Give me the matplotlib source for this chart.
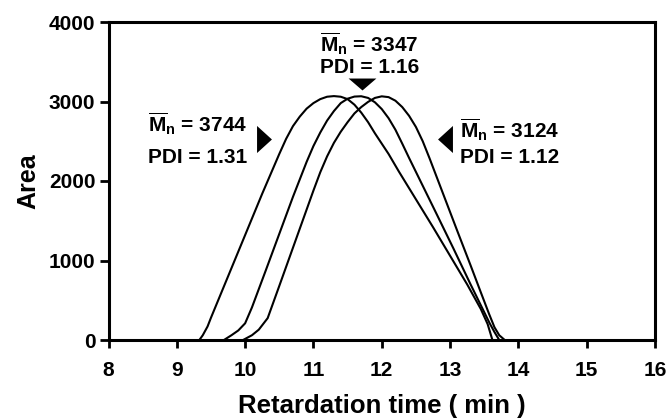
import matplotlib
matplotlib.use("Agg")
import matplotlib.pyplot as plt
from matplotlib.path import Path

plt.rcParams['font.family'] = ['Liberation Sans', 'DejaVu Sans']
plt.rcParams['font.weight'] = 'bold'
plt.rcParams['mathtext.fontset'] = 'custom'
plt.rcParams['mathtext.rm'] = 'Liberation Sans:bold'
plt.rcParams['mathtext.bf'] = 'Liberation Sans:bold'

# GPC traces, retardation time (min) vs area
t_a = [9.33, 9.38, 9.45, 9.50, 9.75, 10.0, 10.25, 10.5, 10.6, 10.7, 10.8, 10.9,
       11.0, 11.1, 11.2, 11.3, 11.4, 11.5, 11.6, 11.7, 11.8, 11.9, 12.0, 12.1,
       12.25, 12.5, 12.75, 13.0, 13.25, 13.45, 13.55, 13.62]
area_a = [0, 60, 170, 280, 800, 1320, 1840, 2340, 2530, 2690, 2810, 2910,
          2980, 3030, 3060, 3068, 3060, 3030, 2960, 2860, 2740, 2600, 2470, 2340,
          2120, 1770, 1420, 1060, 700, 390, 200, 0]

t_b = [9.69, 9.8, 9.9, 10.0, 10.1, 10.3, 10.5, 10.7, 10.9, 11.0, 11.1, 11.2,
       11.3, 11.4, 11.5, 11.6, 11.7, 11.8, 11.9, 12.0, 12.1, 12.2, 12.3, 12.4,
       12.56, 12.8, 13.05, 13.3, 13.5, 13.58, 13.65, 13.72]
area_b = [0, 60, 120, 210, 410, 870, 1335, 1800, 2240, 2440, 2610, 2760,
          2880, 2980, 3035, 3062, 3066, 3045, 2990, 2905, 2790, 2645, 2470, 2290,
          2010, 1590, 1150, 700, 350, 210, 100, 0]

t_c = [9.97, 10.1, 10.2, 10.33, 10.5, 10.75, 11.0, 11.1, 11.2, 11.3, 11.4, 11.5,
       11.6, 11.7, 11.8, 11.9, 12.0, 12.1, 12.2, 12.3, 12.4, 12.5, 12.6, 12.7,
       12.88, 13.1, 13.3, 13.45, 13.57, 13.65, 13.72, 13.8]
area_c = [0, 60, 130, 275, 680, 1280, 1880, 2110, 2310, 2480, 2620, 2740,
          2850, 2930, 2995, 3045, 3065, 3055, 3010, 2930, 2820, 2680, 2500, 2285,
          1880, 1385, 940, 600, 330, 160, 60, 0]

labels = [(r'$\overline{\mathrm{M}}_\mathrm{n}$ = 3744', 'PDI = 1.31'),
          (r'$\overline{\mathrm{M}}_\mathrm{n}$ = 3347', 'PDI = 1.16'),
          (r'$\overline{\mathrm{M}}_\mathrm{n}$ = 3124', 'PDI = 1.12')]

# narrow pointer triangles
tri_right = Path([(-0.55, -1), (0.55, 0), (-0.55, 1), (-0.55, -1)], closed=True)
tri_left = Path([(0.55, -1), (-0.55, 0), (0.55, 1), (0.55, -1)], closed=True)
tri_down = Path([(-1, 0.43), (1, 0.43), (0, -0.43), (-1, 0.43)], closed=True)

fig = plt.figure(figsize=(6.67, 4.18), dpi=100)
ax = fig.add_axes([108.5 / 667, 1 - 340 / 418, (655 - 108.5) / 667, (340 - 22) / 418])

for t, a in [(t_a, area_a), (t_b, area_b), (t_c, area_c)]:
    ax.plot(t, a, color='black', lw=1.5)

ax.set_xlim(8, 16)
ax.set_ylim(0, 4000)
ax.set_xticks(range(8, 17))
ax.set_yticks([0, 1000, 2000, 3000, 4000])
for s in ax.spines.values():
    s.set_linewidth(2.2)
ax.tick_params(axis='x', length=6, width=2, pad=9, labelsize=15)
ax.tick_params(axis='y', length=6.5, width=2, pad=3, labelsize=15)
ax.set_xlabel('Retardation time ( min )', fontsize=18.5, fontweight='bold', labelpad=10)
ax.set_ylabel('Area', fontsize=18, fontweight='bold', labelpad=6)

fs = 15
ax.text(8.58, 2720, labels[0][0], fontsize=fs, va='center', ha='left')
ax.text(8.58, 2290, labels[0][1], fontsize=fs, va='center', ha='left')
ax.plot([10.28], [2525], marker=tri_right, color='black', ms=19.5, markeredgewidth=0)

ax.text(11.82, 3730, labels[1][0], fontsize=fs, va='center', ha='center')
ax.text(11.82, 3430, labels[1][1], fontsize=fs, va='center', ha='center')
ax.plot([11.71], [3225], marker=tri_down, color='black', ms=20, markeredgewidth=0)

ax.text(13.15, 2650, labels[2][0], fontsize=fs, va='center', ha='left')
ax.text(13.15, 2290, labels[2][1], fontsize=fs, va='center', ha='left')
ax.plot([12.93], [2525], marker=tri_left, color='black', ms=19.5, markeredgewidth=0)

fig.savefig('out.png', dpi=100)
